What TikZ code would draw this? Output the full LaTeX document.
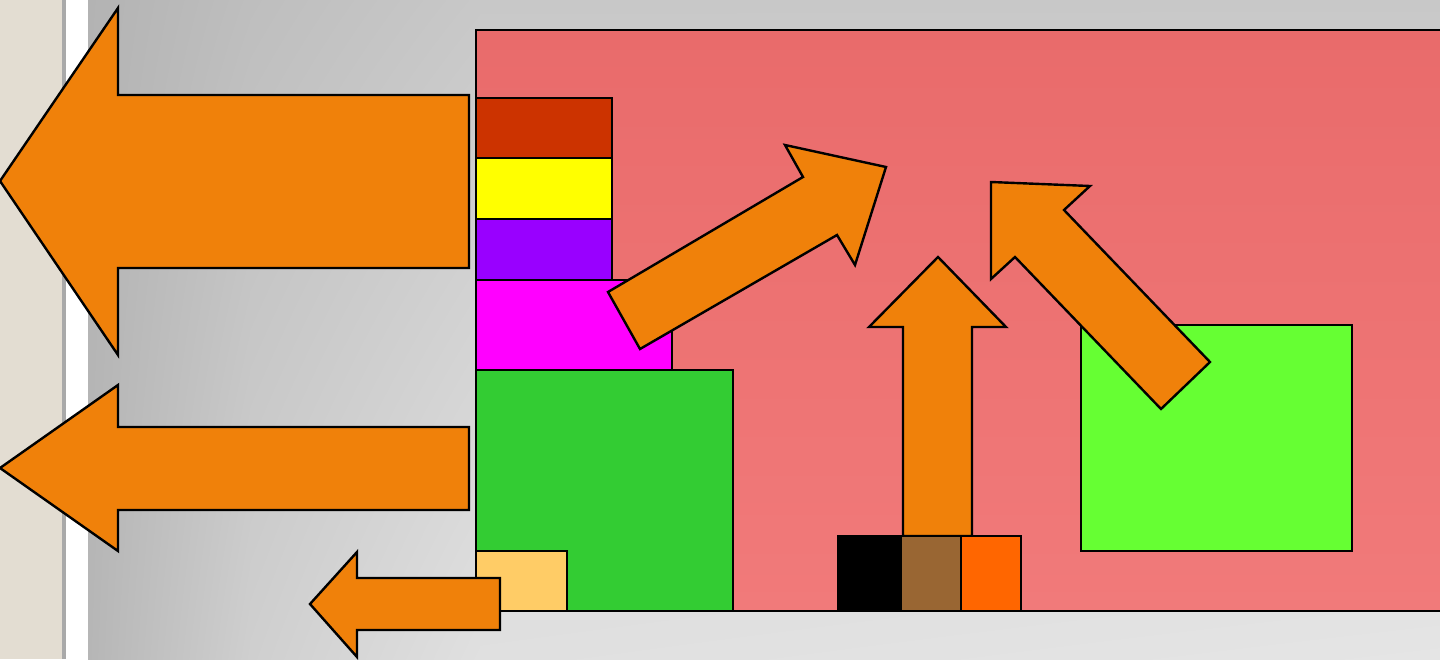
\documentclass[tikz,border=0pt]{standalone}
\usepackage{tikz}
\usetikzlibrary{shadings}
\definecolor{sidebeige}{HTML}{E3DDD2}
\definecolor{sidegray}{HTML}{A9A9A9}
\definecolor{bgtopA}{HTML}{B3B3B3}
\definecolor{bgtopB}{HTML}{BEBEBE}
\definecolor{bgtopC}{HTML}{C8C8C8}
\definecolor{bgbotA}{HTML}{B6B6B6}
\definecolor{bgbotB}{HTML}{CFCFCF}
\definecolor{bgbotC}{HTML}{E0E0E0}
\definecolor{bgbotD}{HTML}{E5E5E5}
\definecolor{pinktop}{HTML}{E96B6B}
\definecolor{pinkbottom}{HTML}{F17A7A}
\definecolor{arroworange}{HTML}{F0810A}
\definecolor{rust}{HTML}{CC3300}
\definecolor{sun}{HTML}{FFFF00}
\definecolor{violet}{HTML}{9900FF}
\definecolor{fuchsia}{HTML}{FF00FF}
\definecolor{leaf}{HTML}{33CC33}
\definecolor{sand}{HTML}{FFCC66}
\definecolor{earth}{HTML}{996633}
\definecolor{flame}{HTML}{FF6600}
\definecolor{lime}{HTML}{66FF33}

\begin{document}
\begin{tikzpicture}[
  x=0.5pt, y=-0.5pt,
  block/.style={draw=black, line width=1.2pt, fill=#1},
  bigarrow/.style={draw=black, line width=1.2pt, fill=arroworange, line join=miter},
]
  \useasboundingbox (0,0) rectangle (1440,659);

  % Background
  \fill[sidebeige] (0,0) rectangle (62,659);
  \fill[sidegray] (62,0) rectangle (66,659);
  \fill[white] (66,0) rectangle (88,659);
  \shade[upper left=bgtopA, upper right=bgtopB, lower left=bgbotA, lower right=bgbotB]
    (88,0) rectangle (250.5,659);
  \shade[upper left=bgtopB, upper right=bgtopC, lower left=bgbotB, lower right=bgbotC]
    (250,0) rectangle (480.5,659);
  \shade[upper left=bgtopC, upper right=bgtopC, lower left=bgbotC, lower right=bgbotD]
    (480,0) rectangle (1440,659);

  % Canvas
  \shadedraw[top color=pinktop, bottom color=pinkbottom, draw=black, line width=1.2pt]
    (476,30) rectangle (1460,611);

  % Stack on the left edge
  \draw[block=rust] (476,98) rectangle (612,158);
  \draw[block=sun] (476,158) rectangle (612,219);
  \draw[block=violet] (476,219) rectangle (612,280);
  \draw[block=fuchsia] (476,280) rectangle (672,370);
  \draw[block=leaf] (476,370) rectangle (733,611);
  \draw[block=sand] (476,551) rectangle (567,611);

  % Right box
  \draw[block=lime] (1081,325) rectangle (1352,551);

  % Up arrow
  \draw[bigarrow] (903,536) -- (903,327) -- (869,327) -- (938,257) -- (1006,327)
    -- (972,327) -- (972,536) -- cycle;

  % Small squares
  \draw[block=black] (838,536) rectangle (901,611);
  \draw[block=earth] (901,536) rectangle (961,611);
  \draw[block=flame] (961,536) rectangle (1021,611);

  % Diagonal arrows
  \draw[bigarrow] (608,292) -- (803,177) -- (785,145) -- (886,167) -- (855,265)
    -- (837,235) -- (640,349) -- cycle;
  \draw[bigarrow] (1210,362) -- (1064,210) -- (1090,186) -- (991,182) -- (991,279)
    -- (1015,257) -- (1161,409) -- cycle;

  % Left arrows
  \draw[bigarrow] (469,95) -- (118,95) -- (118,8) -- (0,181) -- (118,355)
    -- (118,268) -- (469,268) -- cycle;
  \draw[bigarrow] (469,427) -- (118,427) -- (118,385) -- (0,468) -- (118,551)
    -- (118,510) -- (469,510) -- cycle;
  \draw[bigarrow] (500,578) -- (357,578) -- (357,552) -- (310,604) -- (357,657)
    -- (357,630) -- (500,630) -- cycle;
\end{tikzpicture}
\end{document}
